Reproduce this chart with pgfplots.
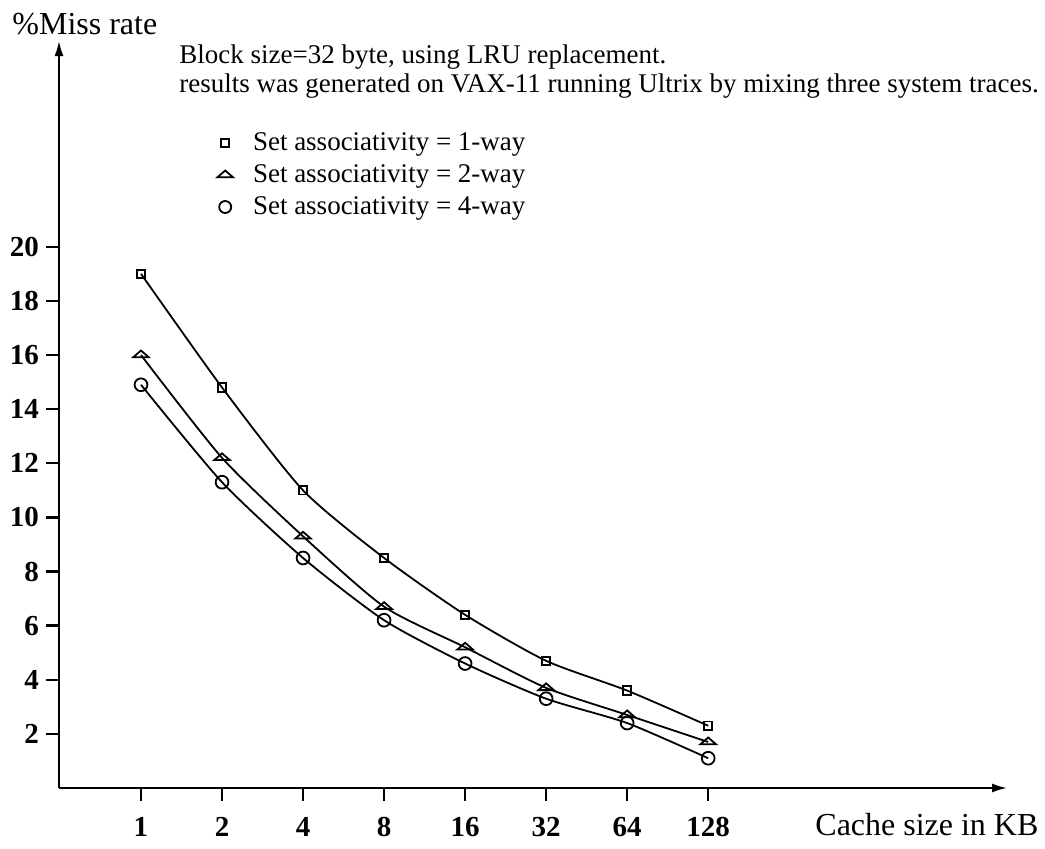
\documentclass[border=0pt]{standalone}
\usepackage{pgfplots}
\pgfplotsset{compat=1.18}
\usepackage{fontspec}
\setmainfont{Liberation Serif}
\usetikzlibrary{arrows.meta}

\begin{document}
\begin{tikzpicture}
\useasboundingbox (-29.5pt,-30pt) rectangle (493pt,394pt);
\begin{axis}[
  at={(0pt,0pt)}, anchor=south west,
  scale only axis,
  width=474.5pt, height=374pt,
  xmin=-1.012, xmax=10.70, ymin=0, ymax=27.64,
  axis lines=left,
  axis line style={line width=1.4pt, -{Latex[length=8pt,width=4.5pt]}},
  tick style={line width=1.2pt, black},
  tick align=outside,
  major tick length=6.5pt,
  xtick={0,1,2,3,4,5,6,7},
  xticklabels={1,2,4,8,16,32,64,128},
  ytick={2,4,6,8,10,12,14,16,18,20},
  /pgf/number format/assume math mode=true,
  ticklabel style={font=\fontsize{14.5}{16}\selectfont\bfseries},
  xticklabel style={yshift=-4.5pt},
  clip=false,
  legend cell align=left,
  legend style={at={(0.1665,0.8195)}, anchor=west, draw=none, fill=none,
    inner sep=0pt, row sep=3pt, column sep=8pt,
    font=\fontsize{13.5}{16}\selectfont,
    nodes={inner ysep=0pt, text height=10pt, text depth=3pt}},
]
\addplot[forget plot, black, line width=0.9pt, smooth, tension=0.4,
  mark=square, mark size=2.1pt, mark options={fill=white, line width=0.9pt}]
  coordinates {(0,19.0) (1,14.8) (2,11.0) (3,8.5) (4,6.4) (5,4.7) (6,3.6) (7,2.3)};
\addplot[forget plot, black, line width=0.9pt, smooth, tension=0.4,
  mark=triangle, mark size=3pt, mark options={fill=white, line width=0.9pt, xscale=1.5, yscale=0.75}]
  coordinates {(0,16.0) (1,12.2) (2,9.3) (3,6.7) (4,5.2) (5,3.7) (6,2.7) (7,1.7)};
\addplot[forget plot, black, line width=0.9pt, smooth, tension=0.4,
  mark=o, mark size=3.2pt, mark options={fill=white, line width=0.9pt}]
  coordinates {(0,14.9) (1,11.3) (2,8.5) (3,6.2) (4,4.6) (5,3.3) (6,2.4) (7,1.1)};
\addlegendimage{only marks, black, mark=square, mark size=2pt, mark options={line width=0.9pt}}
\addlegendentry{Set associativity = 1-way}
\addlegendimage{only marks, black, mark=triangle, mark size=3pt, mark options={line width=0.9pt, xscale=1.5, yscale=0.75}}
\addlegendentry{Set associativity = 2-way}
\addlegendimage{only marks, black, mark=o, mark size=3pt, mark options={line width=0.9pt}}
\addlegendentry{Set associativity = 4-way}
\end{axis}
\node[anchor=base west, inner sep=0pt, font=\fontsize{16}{18}\selectfont] at (-23.5pt,376.5pt) {\%Miss rate};
\node[anchor=base west, inner sep=0pt, font=\fontsize{13.5}{16}\selectfont] at (60pt,362pt) {Block size=32 byte, using LRU replacement.};
\node[anchor=base west, inner sep=0pt, font=\fontsize{13.5}{16}\selectfont] at (60pt,347.5pt) {results was generated on VAX-11 running Ultrix by mixing three system traces.};
\node[anchor=base west, inner sep=0pt, font=\fontsize{16}{18}\selectfont] at (378pt,-23.5pt) {Cache size in KB};
\end{tikzpicture}
\end{document}
